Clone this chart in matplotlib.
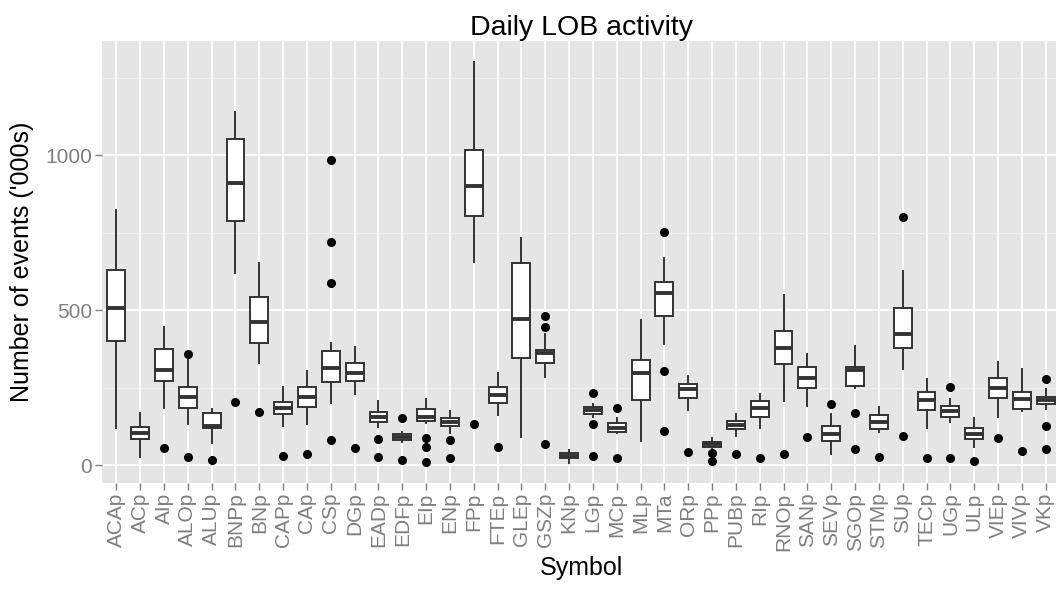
import matplotlib.pyplot as plt

# Daily order-book event counts per symbol, in thousands
symbols = ["ACAp", "ACp", "AIp", "ALOp", "ALUp", "BNPp", "BNp", "CAPp", "CAp", "CSp",
           "DGp", "EADp", "EDFp", "EIp", "ENp", "FPp", "FTEp", "GLEp", "GSZp", "KNp",
           "LGp", "MCp", "MLp", "MTa", "ORp", "PPp", "PUBp", "RIp", "RNOp", "SANp",
           "SEVp", "SGOp", "STMp", "SUp", "TECp", "UGp", "ULp", "VIEp", "VIVp", "VKp"]
whislo = [118, 27, 185, 131, 70, 618, 328, 127, 131, 199,
          228, 122, 75, 134, 104, 656, 161, 91, 285, 5,
          156, 102, 78, 392, 177, 54, 94, 120, 206, 191,
          34, 249, 108, 309, 118, 140, 59, 156, 174, 181]
q1 = [400, 83, 271, 183, 120, 787, 395, 163, 186, 267,
      272, 140, 81, 143, 127, 803, 201, 344, 330, 22,
      165, 108, 210, 481, 215, 59, 115, 156, 325, 247,
      78, 255, 116, 376, 177, 154, 83, 217, 181, 197]
med = [505, 102, 306, 220, 126, 909, 462, 185, 220, 314,
       296, 156, 91, 156, 138, 901, 226, 470, 360, 30,
       177, 120, 298, 554, 244, 67, 129, 185, 378, 282,
       100, 306, 140, 422, 210, 174, 99, 249, 213, 210]
q3 = [629, 124, 373, 253, 167, 1053, 541, 204, 251, 368,
      328, 172, 100, 180, 151, 1016, 251, 653, 371, 40,
      186, 137, 339, 589, 261, 73, 143, 206, 432, 315,
      126, 315, 161, 508, 237, 190, 118, 280, 234, 220]
whishi = [823, 169, 446, 340, 180, 1138, 651, 253, 303, 395,
          380, 208, 108, 212, 174, 1301, 296, 731, 422, 48,
          197, 151, 468, 669, 288, 88, 163, 228, 548, 358,
          163, 384, 188, 627, 276, 213, 151, 333, 309, 244]
outliers = [[], [], [54], [357, 25], [16], [202], [170], [29], [35], [984, 721, 586, 81],
            [54], [83, 25], [151, 16], [86, 59, 11], [81, 22], [131], [57], [], [481, 446, 67], [],
            [231, 131, 29], [183, 24], [], [751, 304, 110], [43], [40, 14], [34], [22], [34], [89],
            [196], [167, 51], [25], [799, 95], [22], [253, 22], [14], [86], [46], [276, 127, 51]]

plt.rcParams['font.family'] = ['Liberation Sans', 'DejaVu Sans']

fig = plt.figure(figsize=(10.56, 5.91), dpi=100)
ax = fig.add_axes([102 / 1056, 108 / 591, 958 / 1056, 442 / 591])
ax.set_facecolor('#E5E5E5')

stats = []
for i, s in enumerate(symbols):
    stats.append(dict(label=s, whislo=whislo[i], q1=q1[i], med=med[i],
                      q3=q3[i], whishi=whishi[i], fliers=outliers[i]))

pos = list(range(1, len(symbols) + 1))
ax.bxp(stats, positions=pos, widths=0.75, showcaps=False, patch_artist=True,
       boxprops=dict(facecolor='white', edgecolor='#333333', linewidth=1.4),
       whiskerprops=dict(color='#333333', linewidth=1.4),
       medianprops=dict(color='#333333', linewidth=2.8),
       flierprops=dict(marker='o', markerfacecolor='black', markeredgecolor='black',
                       markersize=5.5, linestyle='none'))

ax.set_xlim(0.4, len(symbols) + 0.6)
ax.set_ylim(-58, 1368)
ax.set_yticks([0, 500, 1000])
ax.set_yticks([250, 750, 1250], minor=True)
ax.set_xticks(pos)
ax.set_xticklabels(symbols, rotation=90)

ax.grid(True, which='major', color='white', linewidth=1.3)
ax.grid(True, which='minor', axis='y', color='#F2F2F2', linewidth=0.6)
ax.set_axisbelow(True)
for sp in ax.spines.values():
    sp.set_visible(False)

ax.tick_params(axis='both', which='major', colors='#7F7F7F', labelsize=15,
               length=5, width=1, pad=2, labelcolor='#7F7F7F')
ax.tick_params(axis='y', which='minor', length=0)

ax.set_title("Daily LOB activity", fontsize=20.5, pad=1)
ax.set_xlabel("Symbol", fontsize=18, labelpad=4)
ax.set_ylabel("Number of events ('000s)", fontsize=18, labelpad=8)

fig.savefig("out.png", dpi=100)
